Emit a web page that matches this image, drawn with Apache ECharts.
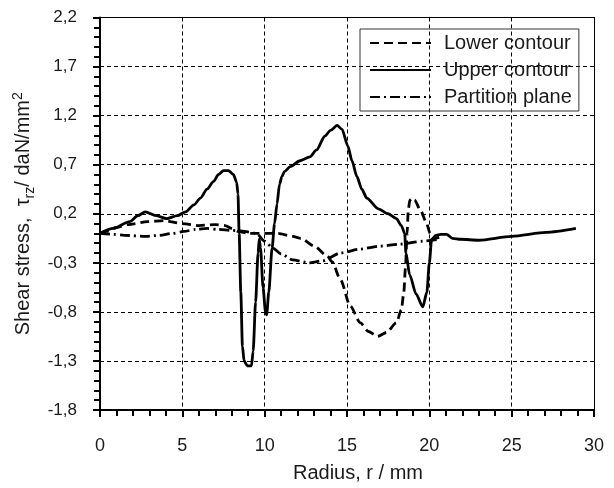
<!DOCTYPE html>
<html>
<head>
<meta charset="utf-8">
<script src="https://cdn.jsdelivr.net/npm/echarts@6/dist/echarts.min.js"></script>
<style>html,body{margin:0;padding:0;background:#fff}#c{width:614px;height:488px}</style>
</head>
<body>
<div id="c"></div>
<script>
// Data
const xTicks = [0, 5, 10, 15, 20, 25, 30];
const yTicks = [-1.8, -1.3, -0.8, -0.3, 0.2, 0.7, 1.2, 1.7, 2.2];

const lowerR = [0, 0.4, 1.0, 1.7, 2.9, 3.9, 5.0, 6.0, 7.0, 7.6, 8.0, 8.4, 9.0, 10.0, 10.8, 11.7, 12.2, 13.0, 13.8, 14.1, 14.6, 15.2, 15.8, 16.3, 16.85, 17.4, 18.0, 18.3, 18.45, 18.55, 18.65, 18.72, 18.82, 18.95, 19.1, 19.45, 19.8, 20.05, 20.3, 20.6];
const lowerTau = [0, 0.02, 0.06, 0.09, 0.12, 0.13, 0.10, 0.08, 0.09, 0.08, 0.05, 0.02, 0.0, 0.0, 0.0, -0.03, -0.05, -0.13, -0.23, -0.29, -0.47, -0.74, -0.91, -1.0, -1.05, -1.01, -0.91, -0.78, -0.6, -0.35, 0.0, 0.24, 0.34, 0.36, 0.34, 0.24, 0.12, 0.0, -0.05, -0.04];

const upperR = [0, 0.8, 1.8, 2.3, 2.75, 3.4, 4.05, 4.7, 5.2, 5.7, 6.1, 6.5, 6.9, 7.2, 7.5, 7.8, 8.1, 8.3, 8.38, 8.45, 8.55, 8.65, 8.75, 8.95, 9.2, 9.3, 9.45, 9.6, 9.67, 9.75, 9.9, 10.05, 10.12, 10.25, 10.45, 10.6, 10.75, 10.9, 11.05, 11.2, 11.55, 12.15, 12.75, 13.15, 13.65, 14.0, 14.4, 14.7, 15.05, 15.3, 15.6, 15.9, 16.2, 16.9, 17.5, 18.0, 18.3, 18.5, 18.58, 18.8, 19.2, 19.6, 19.85, 20.0, 20.14, 20.4, 20.7, 21.05, 21.4, 21.9, 23.0, 25.0, 27.1, 28.9];
const upperTau = [0, 0.05, 0.12, 0.18, 0.22, 0.18, 0.15, 0.18, 0.22, 0.29, 0.36, 0.45, 0.53, 0.6, 0.64, 0.64, 0.6, 0.52, 0.4, 0.0, -0.6, -1.15, -1.3, -1.35, -1.35, -1.2, -0.7, -0.2, -0.06, -0.15, -0.55, -0.8, -0.83, -0.6, -0.15, 0.1, 0.3, 0.5, 0.58, 0.63, 0.68, 0.74, 0.78, 0.85, 0.99, 1.05, 1.10, 1.06, 0.89, 0.74, 0.58, 0.45, 0.36, 0.25, 0.2, 0.15, 0.08, 0.0, -0.2, -0.42, -0.62, -0.75, -0.6, -0.3, -0.06, -0.02, -0.01, -0.01, -0.05, -0.06, -0.07, -0.03, 0.01, 0.05];

const partR = [0, 0.8, 1.5, 2.8, 3.6, 4.4, 5.1, 5.8, 6.5, 7.2, 8.0, 8.8, 9.5, 10.0, 10.5, 11.0, 11.7, 12.7, 13.5, 14.6, 15.8, 17.0, 18.2, 19.6, 20.6];
const partTau = [0, -0.01, -0.02, -0.03, -0.02, 0.0, 0.02, 0.04, 0.05, 0.04, 0.03, 0.02, 0.0, -0.08, -0.15, -0.21, -0.27, -0.30, -0.28, -0.2, -0.16, -0.13, -0.11, -0.08, -0.06];

const seriesNames = ['Lower contour', 'Upper contour', 'Partition plane'];

function pairs(xs, ys) { return xs.map((x, i) => [x, ys[i]]); }
const fmt = v => (Math.round(v * 10) / 10).toFixed(1).replace('.', ',');

const FONT = 'Liberation Sans, Arial, sans-serif';
const TXT = '#1a1a1a';
const AX = '#000';

const xMin = xTicks[0], xMax = xTicks[xTicks.length - 1];
const yMin = yTicks[0], yMax = yTicks[yTicks.length - 1];

const chart = echarts.init(document.getElementById('c'));
const lineBase = {type: 'line', symbol: 'none', smooth: 0.25, smoothMonotone: 'x', z: 3, xAxisIndex: 0, yAxisIndex: 0};
// border-only axes for the top and right frame of the plot
const frameX = {type: 'value', position: 'top', min: xMin, max: xMax, interval: 5,
  axisLine: {show: true, onZero: false, lineStyle: {color: AX, width: 1}},
  axisTick: {show: false}, axisLabel: {show: false}, splitLine: {show: false}};
const frameY = {type: 'value', position: 'right', min: yMin, max: yMax, interval: 0.5,
  axisLine: {show: true, onZero: false, lineStyle: {color: AX, width: 1}},
  axisTick: {show: false}, axisLabel: {show: false}, splitLine: {show: false}};

chart.setOption({
  animation: false,
  backgroundColor: '#fff',
  grid: {left: 100, right: 20, top: 17.5, bottom: 77},
  legend: {
    orient: 'vertical', left: 360, top: 29,
    padding: [4, 7, 4, 9], itemGap: 7, itemWidth: 61, itemHeight: 14,
    borderColor: '#333', borderWidth: 1, backgroundColor: 'transparent',
    itemStyle: {opacity: 0},
    textStyle: {fontFamily: FONT, fontSize: 20, color: TXT, padding: [0, 0, 0, 8]},
    data: seriesNames
  },
  xAxis: [{
    type: 'value', position: 'bottom', min: xMin, max: xMax, interval: 5,
    name: 'Radius, r / mm', nameLocation: 'middle', nameGap: 53,
    nameTextStyle: {fontFamily: FONT, fontSize: 20, color: TXT, padding: [0, 0, 0, 22]},
    axisLine: {show: true, onZero: false, lineStyle: {color: AX, width: 2}},
    axisTick: {show: true, length: 7, lineStyle: {color: '#000', width: 2}},
    minorTick: {show: true, splitNumber: 5, length: 6, lineStyle: {color: '#000', width: 2}},
    axisLabel: {fontFamily: FONT, fontSize: 18, color: TXT, margin: 27},
    splitLine: {show: true, lineStyle: {color: AX, width: 1, type: [4, 3]}}
  }, frameX],
  yAxis: [{
    type: 'value', position: 'left', min: yMin, max: yMax, interval: 0.5,
    name: '{b|Shear stress,  τ}{sub|rz}{b|/ daN/mm}{sup|2}',
    nameLocation: 'middle', nameRotate: 90, nameGap: 62,
    nameTextStyle: {
      fontFamily: FONT, fontSize: 20, color: TXT,
      rich: {
        b: {fontFamily: FONT, fontSize: 20, color: TXT, lineHeight: 26},
        sub: {fontFamily: FONT, fontSize: 14, color: TXT, lineHeight: 14, verticalAlign: 'bottom'},
        sup: {fontFamily: FONT, fontSize: 14, color: TXT, lineHeight: 14, verticalAlign: 'top'}
      }
    },
    axisLine: {show: true, onZero: false, lineStyle: {color: AX, width: 2}},
    axisTick: {show: true, length: 7, lineStyle: {color: '#000', width: 2}},
    minorTick: {show: true, splitNumber: 5, length: 6, lineStyle: {color: '#000', width: 2}},
    axisLabel: {fontFamily: FONT, fontSize: 17, color: TXT, margin: 23, formatter: fmt},
    splitLine: {show: true, lineStyle: {color: AX, width: 1, type: [4, 3]}}
  }, frameY],
  series: [
    Object.assign({}, lineBase, {name: seriesNames[0], data: pairs(lowerR, lowerTau),
      lineStyle: {color: '#000', width: 2.8, type: [9, 5]}, itemStyle: {color: '#000'}}),
    Object.assign({}, lineBase, {name: seriesNames[1], data: pairs(upperR, upperTau),
      lineStyle: {color: '#000', width: 2.8, type: 'solid'}, itemStyle: {color: '#000'}}),
    Object.assign({}, lineBase, {name: seriesNames[2], data: pairs(partR, partTau),
      lineStyle: {color: '#000', width: 2.8, type: [10, 4, 2, 4]}, itemStyle: {color: '#000'}})
  ]
});
</script>
</body>
</html>
